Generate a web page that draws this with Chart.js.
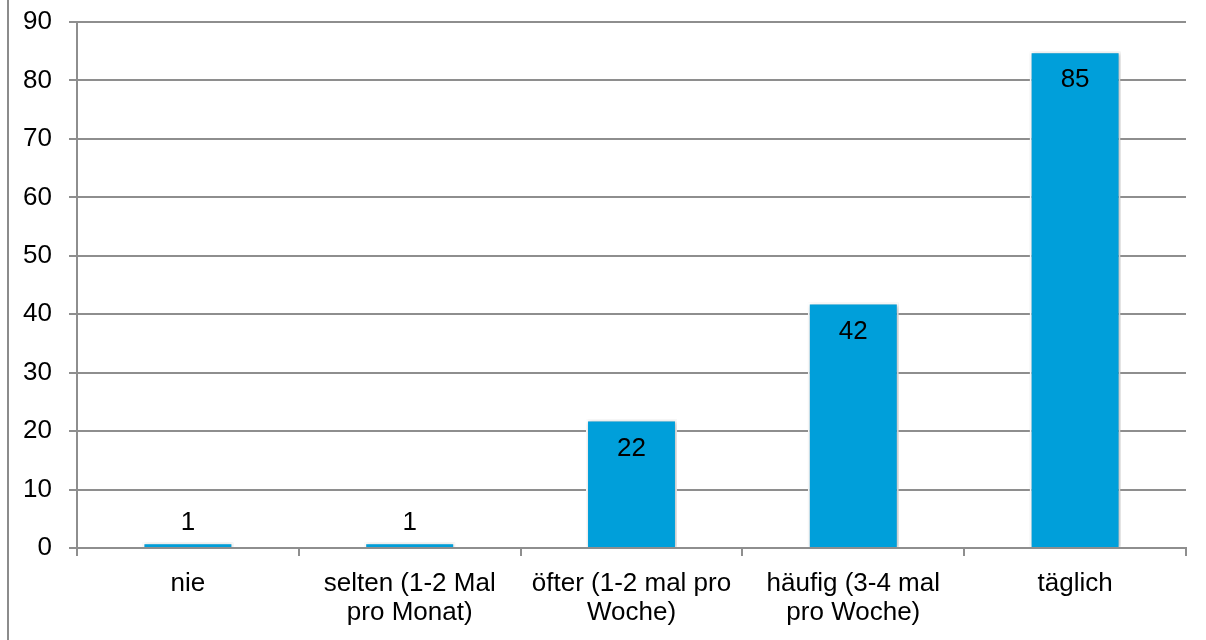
<!DOCTYPE html>
<html>
<head>
<meta charset="utf-8">
<script src="https://cdn.jsdelivr.net/npm/chart.js@4"></script>
<style>
  html, body { margin: 0; padding: 0; background: #fff; }
  #wrap { width: 1206px; height: 640px; }
</style>
</head>
<body>
<div id="wrap"><canvas id="chart" width="1206" height="640"></canvas></div>
<script>
// data
const categories = [
    ['nie'],
    ['selten (1-2 Mal', 'pro Monat)'],
    ['öfter (1-2 mal pro', 'Woche)'],
    ['häufig (3-4 mal', 'pro Woche)'],
    ['täglich']
];
const values = [1, 1, 22, 42, 85];
const yTicks = [0, 10, 20, 30, 40, 50, 60, 70, 80, 90];

const FONT = '"Liberation Sans", Arial, sans-serif';
const gridGray = '#8e8e8e';

// bar shadow + value labels
const barLabels = {
    id: 'barLabels',
    beforeDatasetsDraw(chart) {
        const ctx = chart.ctx;
        ctx.save();
        ctx.shadowColor = 'rgba(0,0,0,0.3)';
        ctx.shadowBlur = 4;
        ctx.shadowOffsetX = 1;
        ctx.shadowOffsetY = 1;
    },
    afterDatasetsDraw(chart) {
        const ctx = chart.ctx;
        ctx.restore();
        const meta = chart.getDatasetMeta(0);
        ctx.save();
        ctx.font = '26px ' + FONT;
        ctx.fillStyle = '#000';
        ctx.textAlign = 'center';
        ctx.textBaseline = 'middle';
        meta.data.forEach((bar, i) => {
            const h = bar.base - bar.y;
            // small bars get the label above, the others inside the top
            const y = h > 40 ? bar.y + 29 : bar.y - 19;
            ctx.fillText(String(values[i]), bar.x, y);
        });
        ctx.restore();
    }
};

// outer chart border (left edge)
const frame = {
    id: 'frame',
    beforeDraw(chart) {
        const ctx = chart.ctx;
        ctx.save();
        ctx.strokeStyle = '#8c8c8c';
        ctx.lineWidth = 2;
        ctx.beginPath();
        ctx.moveTo(8, 0);
        ctx.lineTo(8, 640);
        ctx.stroke();
        ctx.restore();
    }
};

new Chart(document.getElementById('chart'), {
    type: 'bar',
    data: {
        labels: categories,
        datasets: [{
            data: values,
            backgroundColor: '#009FDA',
            borderColor: '#ffffff',
            borderWidth: 2,
            categoryPercentage: 1,
            barPercentage: 0.41
        }]
    },
    options: {
        responsive: false,
        animation: false,
        layout: { padding: { top: 22, right: 20, left: 0, bottom: 0 } },
        plugins: {
            legend: { display: false },
            tooltip: { enabled: false }
        },
        scales: {
            x: {
                afterFit(scale) {
                    scale.height = 92;
                    scale.paddingLeft = 0;
                    scale.paddingRight = 0;
                },
                grid: {
                    offset: true,
                    drawOnChartArea: false,
                    drawTicks: true,
                    tickLength: 8,
                    color: gridGray,
                    lineWidth: 2
                },
                border: { display: true, color: gridGray, width: 2 },
                ticks: {
                    color: '#000',
                    font: { family: FONT, size: 26, lineHeight: 1.1 },
                    padding: 14,
                    maxRotation: 0,
                    autoSkip: false
                }
            },
            y: {
                min: 0,
                max: 90,
                afterFit(scale) {
                    scale.width = 77;
                    scale.paddingTop = 0;
                    scale.paddingBottom = 0;
                },
                afterBuildTicks(scale) {
                    scale.ticks = yTicks.map(v => ({ value: v }));
                },
                grid: {
                    color: gridGray,
                    lineWidth: 2,
                    drawTicks: true,
                    tickLength: 8
                },
                border: { display: true, color: gridGray, width: 2 },
                ticks: {
                    color: '#000',
                    font: { family: FONT, size: 26 },
                    padding: 17
                }
            }
        }
    },
    plugins: [frame, barLabels]
});
</script>
</body>
</html>
